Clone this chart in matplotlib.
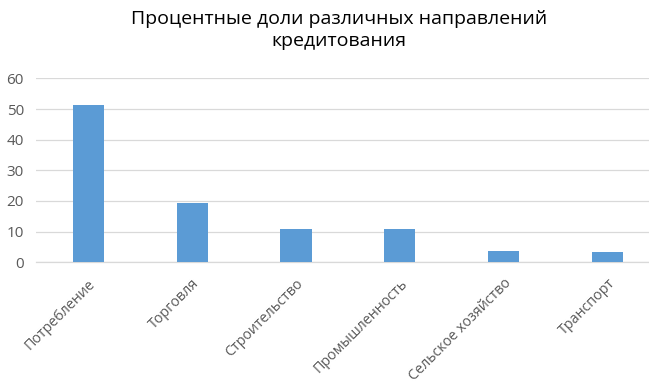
import matplotlib
matplotlib.use("Agg")
import matplotlib.pyplot as plt

plt.rcParams.update({
    "font.family": ["Open Sans", "DejaVu Sans"],
    "font.size": 11,
})

# Data
categories = ["Потребление", "Торговля", "Строительство",
              "Промышленность", "Сельское хозяйство", "Транспорт"]
shares = [51.3, 19.2, 10.8, 10.8, 3.6, 3.3]
y_ticks = [0, 10, 20, 30, 40, 50, 60]

TEXT = "#595959"
GRID = "#D9D9D9"
BAR = "#5B9BD5"

fig = plt.figure(figsize=(6.49, 3.92), dpi=100)
ax = fig.add_axes([0.056, 0.331, 0.944, 0.469])

x = range(len(categories))
ax.bar(x, shares, width=0.30, color=BAR, zorder=3)

ax.set_xlim(-0.5, 5.4)
ax.set_ylim(0, 60)
ax.set_yticks(y_ticks)
ax.set_xticks(list(x))
ax.set_xticklabels(categories, rotation=45, ha="right", rotation_mode="anchor",
                   fontsize=10.3, color=TEXT)
ax.tick_params(axis="y", length=0, colors=TEXT, labelsize=11, pad=9)
ax.tick_params(axis="x", length=0, pad=10)

ax.yaxis.grid(True, color=GRID, linewidth=0.9)
ax.set_axisbelow(True)
for side in ["top", "right", "left"]:
    ax.spines[side].set_visible(False)
ax.spines["bottom"].set_color(GRID)
ax.spines["bottom"].set_linewidth(0.9)

fig.text(0.522, 0.975, "Процентные доли различных направлений\nкредитования",
         ha="center", va="top", fontsize=14, color="#000000", linespacing=1.3)

fig.savefig("out.png", dpi=100)
